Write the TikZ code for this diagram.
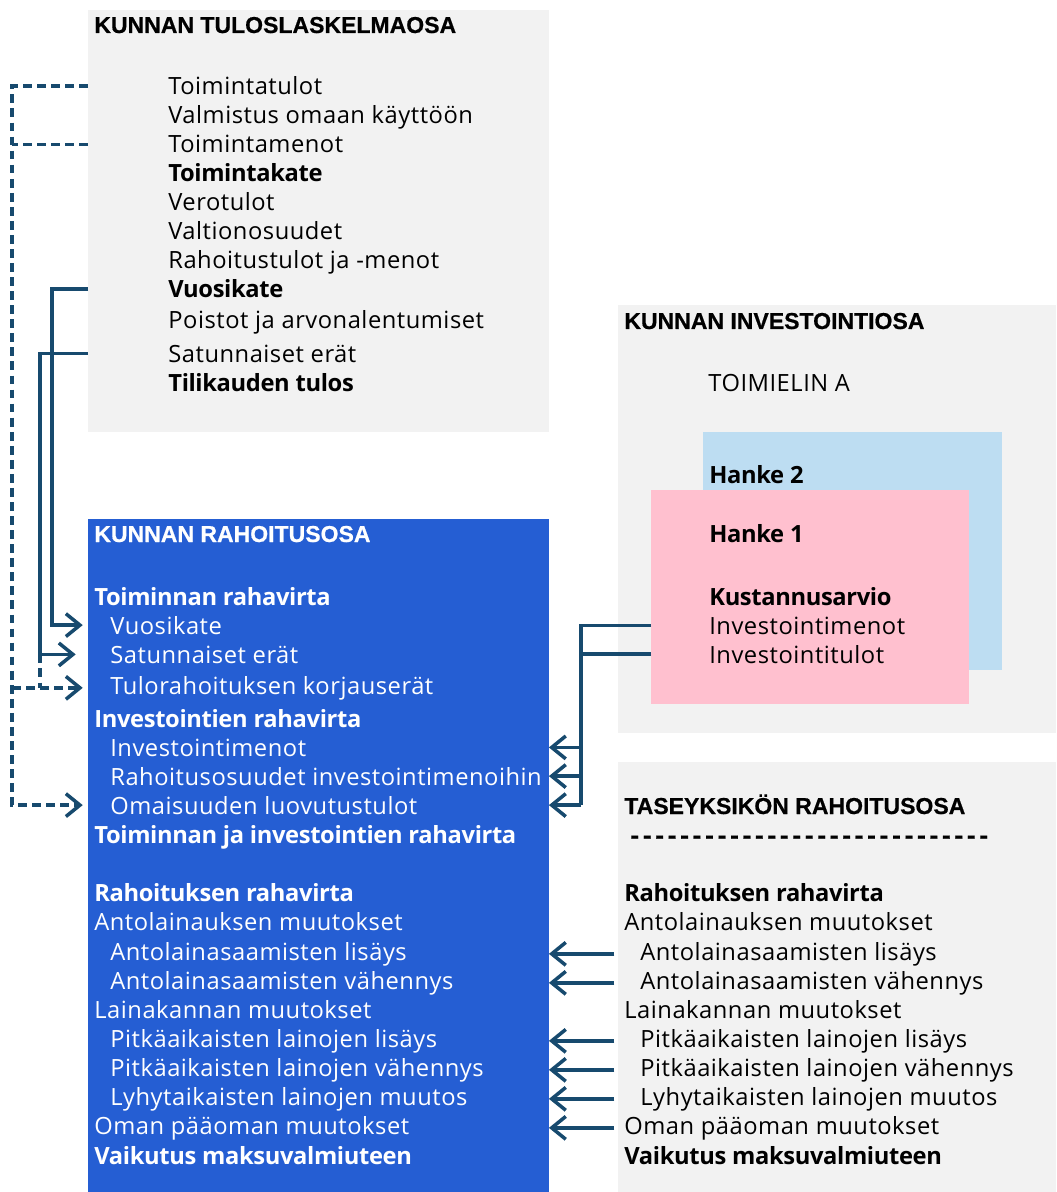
\documentclass[tikz,border=0pt]{standalone}
\usepackage{fontspec}
\setmainfont{Open Sans}[UprightFeatures={LetterSpace=2.2},BoldFeatures={LetterSpace=-1.5}]
\newfontfamily\titlefont{Liberation Sans}[BoldFeatures={FakeBold=0.6}]
\usetikzlibrary{arrows.meta}
\definecolor{boxgray}{HTML}{F2F2F2}
\definecolor{boxblue}{HTML}{255ED3}
\definecolor{hankeblue}{HTML}{BDDDF2}
\definecolor{hankepink}{HTML}{FFC0CF}
\definecolor{linkblue}{HTML}{174A6E}
\tikzset{
    panel/.style ={
        anchor=north west,
        inner sep=0pt,
        outer sep=0pt
    },
    heading/.style ={
        anchor=base west,
        inner sep=0pt,
        font=\titlefont\fontsize{13.1}{15}\selectfont\bfseries
    },
    entry/.style ={
        anchor=base west,
        inner sep=0pt,
        font=\fontsize{13.5}{16}\selectfont
    },
    wentry/.style ={
        entry,
        text=white
    },
    flow/.style ={
        draw=linkblue,
        line width=2pt,
        -{Straight Barb[length=8pt,width=13pt]}
    },
    dashflow/.style ={
        flow,
        dash pattern=on 5pt off 3pt
    }
}

\begin{document}
\begin{tikzpicture}[x=0.02cm,y=-0.02cm]
    \useasboundingbox (0,0) rectangle (1056,1192);
    % boxes
    \node[panel,fill=boxgray,minimum width=9.22cm,minimum height=8.44cm] (tulos) at(88,10) {};
    \node[panel,fill=boxblue,minimum width=9.22cm,minimum height=13.46cm] (rahoitus) at(88,519) {};
    \node[panel,fill=boxgray,minimum width=8.76cm,minimum height=8.56cm] (invest) at(618,305) {};
    \node[panel,fill=hankeblue,minimum width=5.98cm,minimum height=4.76cm] (hanke2) at(703,432) {};
    \node[panel,fill=hankepink,minimum width=6.36cm,minimum height=4.28cm] (hanke1) at(651,490) {};
    \node[panel,fill=boxgray,minimum width=8.76cm,minimum height=8.6cm] (tase) at(618,762) {};
    % titles
    \node[heading] (tulosotsikko) at(94,33) {KUNNAN TULOSLASKELMAOSA};
    \node[heading,text=white] (rahoitusotsikko) at(94,542) {KUNNAN RAHOITUSOSA};
    \node[heading] (investotsikko) at(624,329) {KUNNAN INVESTOINTIOSA};
    \node[heading] (taseotsikko) at(624,814) {TASEYKSIKÖN RAHOITUSOSA};
    \node[heading,font=\titlefont\fontsize{15}{18}\selectfont\bfseries\addfontfeature{LetterSpace=14}] (viiva) at(630,844)
        {-{}-{}-{}-{}-{}-{}-{}-{}-{}-{}-{}-{}-{}-{}-{}-{}-{}-{}-{}-{}-{}-{}-{}-{}-{}-{}-{}-{}-{}};
    % tuloslaskelma
    \foreach \y/\txt [count=\i] in {87/Toimintatulot, 116/Valmistus omaan käyttöön,
        145/Toimintamenot, 174/\textbf{Toimintakate}, 203/Verotulot, 232/Valtionosuudet,
        261/Rahoitustulot ja -menot, 290/\textbf{Vuosikate}, 321/Poistot ja arvonalentumiset,
        354/Satunnaiset erät, 384/\textbf{Tilikauden tulos}}
        \node[entry] (t\i) at(168,\y+8) {\txt};
    % investointiosa
    \node[entry] (toimielin) at(708,392) {TOIMIELIN A};
    \foreach \y/\txt [count=\i] in {475/\textbf{Hanke 2}, 534/\textbf{Hanke 1},
        597/\textbf{Kustannusarvio}, 626/Investointimenot, 655/Investointitulot}
        \node[entry] (h\i) at(709,\y+8) {\txt};
    % rahoitusosa
    \foreach \x/\y/\txt [count=\i] in {94/597/\textbf{Toiminnan rahavirta},
        110/626/Vuosikate, 110/655/Satunnaiset erät, 110/686/Tulorahoituksen korjauserät,
        94/719/\textbf{Investointien rahavirta}, 110/748/Investointimenot,
        110/777/Rahoitusosuudet investointimenoihin, 110/806/Omaisuuden luovutustulot,
        94/835/\textbf{Toiminnan ja investointien rahavirta},
        94/893/\textbf{Rahoituksen rahavirta}, 94/922/Antolainauksen muutokset,
        110/952/Antolainasaamisten lisäys, 110/981/Antolainasaamisten vähennys,
        94/1010/Lainakannan muutokset, 110/1039/Pitkäaikaisten lainojen lisäys,
        110/1068/Pitkäaikaisten lainojen vähennys, 110/1097/Lyhytaikaisten lainojen muutos,
        94/1126/Oman pääoman muutokset, 94/1156/\textbf{Vaikutus maksuvalmiuteen}}
        \node[wentry] (r\i) at(\x,\y+8) {\txt};
    % taseyksikon rahoitusosa
    \foreach \x/\y/\txt [count=\i] in {624/893/\textbf{Rahoituksen rahavirta},
        624/922/Antolainauksen muutokset, 640/952/Antolainasaamisten lisäys,
        640/981/Antolainasaamisten vähennys, 624/1010/Lainakannan muutokset,
        640/1039/Pitkäaikaisten lainojen lisäys, 640/1068/Pitkäaikaisten lainojen vähennys,
        640/1097/Lyhytaikaisten lainojen muutos, 624/1126/Oman pääoman muutokset,
        624/1156/\textbf{Vaikutus maksuvalmiuteen}}
        \node[entry] (s\i) at(\x,\y+8) {\txt};
    % connectors
    \coordinate (dl) at(12,0);
    \coordinate (sl1) at(52,0);
    \coordinate (sl2) at(40,0);
    \coordinate (sr) at(581,0);
    \draw[dashflow,shorten >=3pt] (t1 -| tulos.west) -| (r8 -| dl) -- (r8 -| rahoitus.west);
    \draw[dashflow,-] (t3 -| tulos.west) -- (t3 -| dl);
    \draw[dashflow,shorten >=3pt] (r4 -| dl) -- (r4 -| rahoitus.west);
    \draw[dashflow,-] (r3 -| sl2) -- (r4 -| sl2);
    \draw[flow,shorten >=3pt] (t8 -| tulos.west) -| (r2 -| sl1) -- (r2 -| rahoitus.west);
    \draw[flow,shorten >=7pt] (t10 -| tulos.west) -| (r3 -| sl2) -- (r3 -| rahoitus.west);
    \draw[flow,-] (h4 -| hanke1.west) -| (r8 -| sr);
    \draw[flow,-] (h5 -| hanke1.west) -- (h5 -| sr);
    \foreach \n in {6,7,8}
        \draw[flow] (r\n -| sr) -- (r\n -| rahoitus.east);
    \foreach \a/\b in {12/3,13/4,15/6,16/7,17/8,18/9}
        \draw[flow,shorten <=2pt] (s\b -| tase.west) -- (r\a -| rahoitus.east);
\end{tikzpicture}
\end{document}
